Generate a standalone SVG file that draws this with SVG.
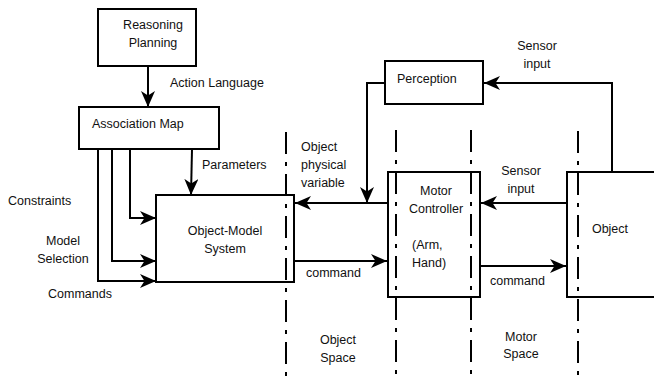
<svg xmlns="http://www.w3.org/2000/svg" width="654" height="381" viewBox="0 0 654 381">
<defs>
<style>
.box{fill:#fff;stroke:#000;stroke-width:2}
.ln{fill:none;stroke:#000;stroke-width:2}
.arr{fill:none;stroke:#000;stroke-width:2;marker-end:url(#ah)}
.dd{fill:none;stroke:#000;stroke-width:2;stroke-dasharray:22 8 4 8}
text{font-family:"Liberation Sans",Arial,sans-serif;font-size:12.5px;fill:#111}
.c{text-anchor:middle}
</style>
<marker id="ah" viewBox="0 0 16 14" refX="16" refY="7" markerWidth="16" markerHeight="14" markerUnits="userSpaceOnUse" orient="auto">
<path d="M0,0 L16,7 L0,14 L4.5,7 z" fill="#000"/>
</marker>
</defs>
<rect width="654" height="381" fill="#fff"/>

<g id="node-reasoning">
<rect class="box" x="98" y="9" width="98" height="57"/>
<text class="c" x="153" y="29">Reasoning</text>
<text class="c" x="153" y="47">Planning</text>
</g>
<g id="node-association">
<rect class="box" x="79" y="107" width="140" height="42"/>
<text x="92" y="128">Association Map</text>
</g>
<g id="node-objectmodel">
<rect class="box" x="156" y="195" width="138" height="87"/>
<text class="c" x="225" y="235">Object-Model</text>
<text class="c" x="225" y="253">System</text>
</g>
<g id="node-perception">
<rect class="box" x="385" y="61" width="98" height="43"/>
<text x="397" y="83">Perception</text>
</g>
<g id="node-motor">
<rect class="box" x="388" y="172" width="92" height="125"/>
<text class="c" x="436" y="195">Motor</text>
<text class="c" x="436" y="213">Controller</text>
<text x="412" y="249">(Arm,</text>
<text x="412" y="267">Hand)</text>
</g>
<g id="node-object">
<rect class="box" x="567" y="172" width="100" height="125"/>
<text class="c" x="610" y="233">Object</text>
</g>

<g id="separators">
<line class="dd" x1="286" y1="132" x2="286" y2="381"/>
<line class="dd" x1="396" y1="130" x2="396" y2="381"/>
<line class="dd" x1="471" y1="130" x2="471" y2="381"/>
<line class="dd" x1="578" y1="131" x2="578" y2="381"/>
</g>

<g id="connectors">
<path class="arr" d="M148,66 L148,107"/>
<path class="arr" d="M192,149 L191,195"/>
<path class="arr" d="M130,149 L130,218 L156,218"/>
<path class="arr" d="M112,149 L112,261 L156,261"/>
<path class="arr" d="M98,149 L98,281 L156,281"/>
<path class="arr" d="M385,83 L367,83 L367,203"/>
<path class="arr" d="M388,203 L295,203"/>
<path class="arr" d="M612,172 L612,83 L484,83"/>
<path class="arr" d="M567,203 L481,203"/>
<path class="arr" d="M294,261 L387,261"/>
<path class="arr" d="M480,266 L566,266"/>
</g>

<g id="labels">
<text x="170" y="87">Action Language</text>
<text x="202" y="169">Parameters</text>
<text x="8" y="205">Constraints</text>
<text class="c" x="63" y="245">Model</text>
<text class="c" x="63" y="263">Selection</text>
<text x="48" y="298">Commands</text>
<text x="301" y="151">Object</text>
<text x="301" y="169">physical</text>
<text x="301" y="187">variable</text>
<text class="c" x="537" y="50">Sensor</text>
<text class="c" x="537" y="68">input</text>
<text class="c" x="521" y="175">Sensor</text>
<text class="c" x="521" y="193">input</text>
<text x="306" y="277">command</text>
<text x="490" y="285">command</text>
<text class="c" x="338" y="344">Object</text>
<text class="c" x="338" y="362">Space</text>
<text class="c" x="521" y="341">Motor</text>
<text class="c" x="521" y="358">Space</text>
</g>
</svg>
